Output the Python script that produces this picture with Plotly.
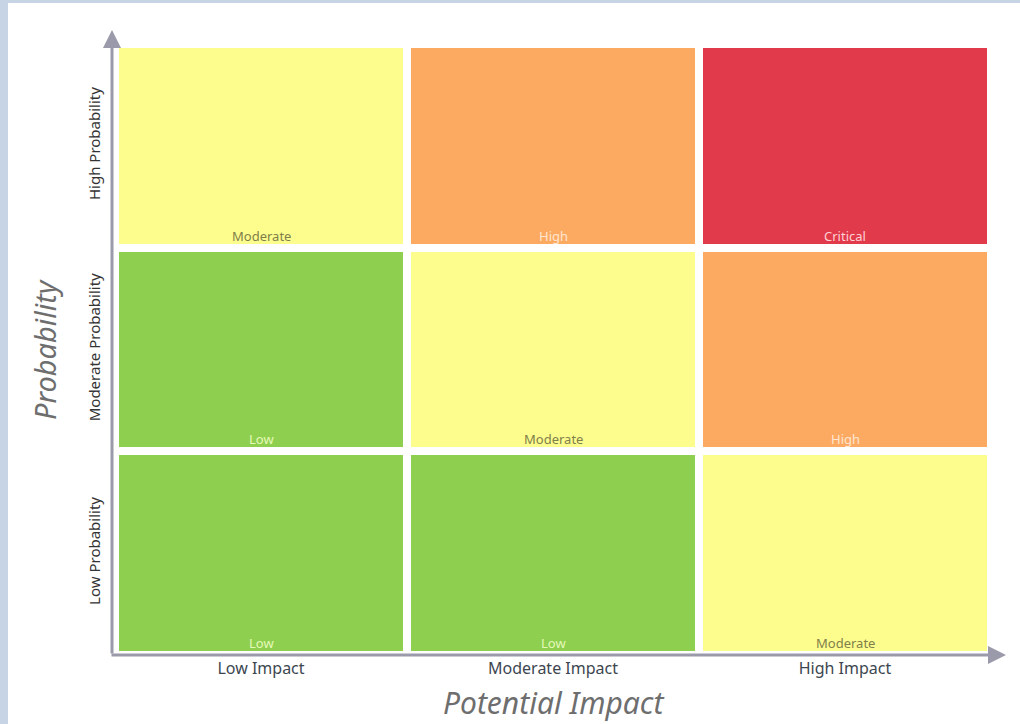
import plotly.graph_objects as go

# Risk matrix definition
impact_levels = ["Low Impact", "Moderate Impact", "High Impact"]
probability_levels = ["Low Probability", "Moderate Probability", "High Probability"]

# Rows go from low probability (bottom) to high probability (top)
risk_grid = [
    ["Low", "Low", "Moderate"],
    ["Low", "Moderate", "High"],
    ["Moderate", "High", "Critical"],
]

risk_order = ["Low", "Moderate", "High", "Critical"]
risk_fill = {
    "Low": "#8fcf4f",
    "Moderate": "#fdfd8e",
    "High": "#fcaa62",
    "Critical": "#e13a4a",
}
risk_text = {
    "Low": "#e4f9b8",
    "Moderate": "#7f7f4a",
    "High": "#ffe6d0",
    "Critical": "#ffd0d4",
}

W, H = 1020, 724
M_L, M_R, M_T, M_B = 115, 29, 44, 69
PW, PH = W - M_L - M_R, H - M_T - M_B


def px_x(p):
    return (p - M_L) / PW


def px_y(p):
    return (H - M_B - p) / PH


z = [[risk_order.index(v) for v in row] for row in risk_grid]

n = len(risk_order)
colorscale = []
for i, name in enumerate(risk_order):
    colorscale.append([i / n, risk_fill[name]])
    colorscale.append([(i + 1) / n, risk_fill[name]])

fig = go.Figure(
    go.Heatmap(
        z=z,
        x=list(range(len(impact_levels))),
        y=list(range(len(probability_levels))),
        zmin=-0.5,
        zmax=n - 0.5,
        colorscale=colorscale,
        showscale=False,
        xgap=8,
        ygap=8,
        hoverinfo="skip",
    )
)

annotations = []
for r, row in enumerate(risk_grid):
    for c, level in enumerate(row):
        annotations.append(
            dict(
                x=c,
                y=r - 0.5,
                xref="x",
                yref="y",
                text=level,
                showarrow=False,
                yanchor="middle",
                yshift=12,
                font=dict(family="Noto Sans", size=13, color=risk_text[level]),
            )
        )

axis_grey = "#9a9aaa"
# Vertical axis arrow
annotations.append(
    dict(
        x=px_x(112), y=px_y(30), xref="paper", yref="paper",
        ax=0, ay=625, axref="pixel", ayref="pixel",
        text="", showarrow=True, arrowhead=2, arrowsize=1.2,
        arrowwidth=3, arrowcolor=axis_grey, standoff=0,
    )
)
# Horizontal axis arrow
annotations.append(
    dict(
        x=px_x(1006), y=px_y(655), xref="paper", yref="paper",
        ax=-896, ay=0, axref="pixel", ayref="pixel",
        text="", showarrow=True, arrowhead=2, arrowsize=1.2,
        arrowwidth=3, arrowcolor=axis_grey, standoff=0,
    )
)

# Axis titles
annotations.append(
    dict(
        x=0.5, y=0, xref="paper", yref="paper", yshift=-47,
        xanchor="center", yanchor="middle", showarrow=False,
        text="Potential Impact",
        font=dict(family="Noto Sans", size=30, color="#6e6e6e", style="italic"),
    )
)
annotations.append(
    dict(
        x=0, y=px_y(350), xref="paper", yref="paper", xshift=-71,
        xanchor="center", yanchor="middle", showarrow=False,
        text="Probability", textangle=-90,
        font=dict(family="Noto Sans", size=29, color="#6e6e6e", style="italic"),
    )
)

shapes = [
    # light blue frame strips
    dict(type="rect", xref="paper", yref="paper", layer="below",
         x0=px_x(0), x1=px_x(8), y0=px_y(H), y1=px_y(0),
         fillcolor="#c7d4e5", line=dict(width=0)),
    dict(type="rect", xref="paper", yref="paper", layer="below",
         x0=px_x(0), x1=px_x(W), y0=px_y(3), y1=px_y(0),
         fillcolor="#c7d4e5", line=dict(width=0)),
]

fig.update_layout(
    width=W,
    height=H,
    margin=dict(l=M_L, r=M_R, t=M_T, b=M_B),
    paper_bgcolor="white",
    plot_bgcolor="white",
    annotations=annotations,
    shapes=shapes,
    xaxis=dict(
        range=[-0.5, len(impact_levels) - 0.5],
        tickvals=list(range(len(impact_levels))),
        ticktext=impact_levels,
        showgrid=False, zeroline=False, showline=False,
        ticks="", ticklabelstandoff=2,
        tickfont=dict(family="Noto Sans", size=16, color="#3c4650"),
        fixedrange=True,
    ),
    yaxis=dict(
        range=[-0.5, len(probability_levels) - 0.5],
        tickvals=list(range(len(probability_levels))),
        ticktext=probability_levels,
        tickangle=-90,
        showgrid=False, zeroline=False, showline=False,
        ticks="", ticklabelstandoff=11,
        tickfont=dict(family="Noto Sans", size=15, color="#333333"),
        fixedrange=True,
    ),
    showlegend=False,
)

fig.write_html("out.html")
